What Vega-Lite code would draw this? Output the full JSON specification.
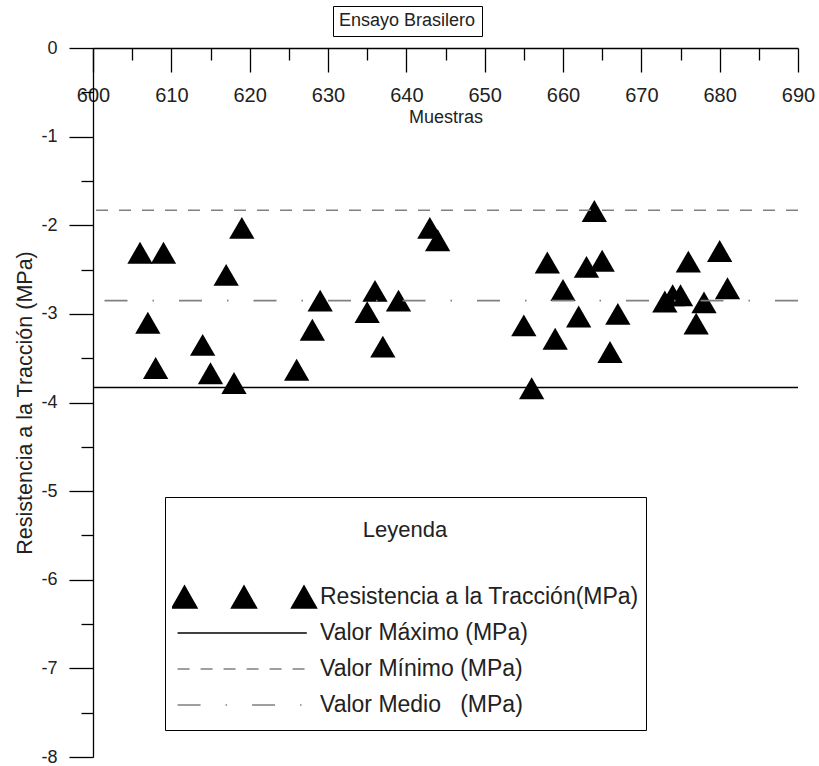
{
  "$schema": "https://vega.github.io/schema/vega-lite/v6.json",
  "width": 705,
  "height": 709,
  "autosize": {"type": "none"},
  "padding": {"left": 93, "top": 48, "right": 21, "bottom": 9},
  "background": "white",
  "config": {"font": "Liberation Sans", "view": {"stroke": null}},
  "datasets": {
    "muestras": [
      {"muestra": 606, "resistencia": -2.31, "ensayo": "Ensayo Brasilero"},
      {"muestra": 607, "resistencia": -3.10, "ensayo": "Ensayo Brasilero"},
      {"muestra": 608, "resistencia": -3.61, "ensayo": "Ensayo Brasilero"},
      {"muestra": 609, "resistencia": -2.31, "ensayo": "Ensayo Brasilero"},
      {"muestra": 614, "resistencia": -3.35, "ensayo": "Ensayo Brasilero"},
      {"muestra": 615, "resistencia": -3.67, "ensayo": "Ensayo Brasilero"},
      {"muestra": 617, "resistencia": -2.56, "ensayo": "Ensayo Brasilero"},
      {"muestra": 618, "resistencia": -3.78, "ensayo": "Ensayo Brasilero"},
      {"muestra": 619, "resistencia": -2.03, "ensayo": "Ensayo Brasilero"},
      {"muestra": 626, "resistencia": -3.63, "ensayo": "Ensayo Brasilero"},
      {"muestra": 628, "resistencia": -3.18, "ensayo": "Ensayo Brasilero"},
      {"muestra": 629, "resistencia": -2.85, "ensayo": "Ensayo Brasilero"},
      {"muestra": 635, "resistencia": -2.98, "ensayo": "Ensayo Brasilero"},
      {"muestra": 636, "resistencia": -2.74, "ensayo": "Ensayo Brasilero"},
      {"muestra": 637, "resistencia": -3.37, "ensayo": "Ensayo Brasilero"},
      {"muestra": 639, "resistencia": -2.85, "ensayo": "Ensayo Brasilero"},
      {"muestra": 643, "resistencia": -2.03, "ensayo": "Ensayo Brasilero"},
      {"muestra": 644, "resistencia": -2.17, "ensayo": "Ensayo Brasilero"},
      {"muestra": 655, "resistencia": -3.13, "ensayo": "Ensayo Brasilero"},
      {"muestra": 656, "resistencia": -3.84, "ensayo": "Ensayo Brasilero"},
      {"muestra": 658, "resistencia": -2.42, "ensayo": "Ensayo Brasilero"},
      {"muestra": 659, "resistencia": -3.28, "ensayo": "Ensayo Brasilero"},
      {"muestra": 660, "resistencia": -2.73, "ensayo": "Ensayo Brasilero"},
      {"muestra": 662, "resistencia": -3.03, "ensayo": "Ensayo Brasilero"},
      {"muestra": 663, "resistencia": -2.47, "ensayo": "Ensayo Brasilero"},
      {"muestra": 664, "resistencia": -1.84, "ensayo": "Ensayo Brasilero"},
      {"muestra": 665, "resistencia": -2.40, "ensayo": "Ensayo Brasilero"},
      {"muestra": 666, "resistencia": -3.43, "ensayo": "Ensayo Brasilero"},
      {"muestra": 667, "resistencia": -3.00, "ensayo": "Ensayo Brasilero"},
      {"muestra": 673, "resistencia": -2.86, "ensayo": "Ensayo Brasilero"},
      {"muestra": 674, "resistencia": -2.79, "ensayo": "Ensayo Brasilero"},
      {"muestra": 675, "resistencia": -2.79, "ensayo": "Ensayo Brasilero"},
      {"muestra": 676, "resistencia": -2.41, "ensayo": "Ensayo Brasilero"},
      {"muestra": 677, "resistencia": -3.11, "ensayo": "Ensayo Brasilero"},
      {"muestra": 678, "resistencia": -2.87, "ensayo": "Ensayo Brasilero"},
      {"muestra": 680, "resistencia": -2.29, "ensayo": "Ensayo Brasilero"},
      {"muestra": 681, "resistencia": -2.71, "ensayo": "Ensayo Brasilero"}
    ],
    "referencias": [
      {"serie": "Valor Máximo (MPa)", "valor": -3.83},
      {"serie": "Valor Mínimo (MPa)", "valor": -1.83},
      {"serie": "Valor Medio\u00a0\u00a0\u00a0(MPa)", "valor": -2.85}
    ]
  },
  "layer": [
    {
      "data": {"name": "muestras"},
      "mark": {"type": "point", "shape": "triangle-up", "filled": true, "size": 640, "opacity": 1, "strokeWidth": 0},
      "encoding": {
        "x": {
          "field": "muestra", "type": "quantitative",
          "scale": {"domain": [600, 690], "nice": false, "zero": false},
          "axis": {
            "orient": "bottom", "offset": -709,
            "values": [600, 605, 610, 615, 620, 625, 630, 635, 640, 645, 650, 655, 660, 665, 670, 675, 680, 685, 690],
            "tickSize": {"condition": {"test": "datum.value % 10 === 0", "value": 24}, "value": 12},
            "labelExpr": "datum.value % 10 === 0 ? datum.label : ''",
            "labelFontSize": 20, "labelPadding": 13, "labelColor": "#222", "labelFlush": false, "labelOverlap": false,
            "title": "Muestras", "titleFontSize": 18, "titleFontWeight": "normal", "titlePadding": 3, "titleColor": "#222",
            "domainColor": "black", "tickColor": "black", "domainWidth": 1.3, "tickWidth": 1.3, "grid": false
          }
        },
        "y": {
          "field": "resistencia", "type": "quantitative",
          "scale": {"domain": [-8, 0], "nice": false, "zero": false},
          "axis": {
            "orient": "left",
            "values": [-8, -7.5, -7, -6.5, -6, -5.5, -5, -4.5, -4, -3.5, -3, -2.5, -2, -1.5, -1, -0.5, 0],
            "tickSize": {"condition": {"test": "datum.value % 1 === 0", "value": 24}, "value": 12},
            "labelExpr": "datum.value % 1 === 0 ? toString(datum.value) : ''",
            "labelFontSize": 18, "labelPadding": 12, "labelColor": "#222", "labelOverlap": false,
            "title": "Resistencia a la Tracción (MPa)", "titleFontSize": 21.5, "titleFontWeight": "normal", "titlePadding": 4, "titleColor": "#222",
            "domainColor": "black", "tickColor": "black", "domainWidth": 1.3, "tickWidth": 1.3, "grid": false
          }
        },
        "fill": {
          "field": "ensayo", "type": "nominal",
          "scale": {"range": ["black"]},
          "legend": {
            "title": null, "orient": "none", "legendX": 240, "legendY": -42,
            "strokeColor": "black", "padding": 6, "fillColor": "white",
            "labelFontSize": 18, "labelColor": "#222", "labelOffset": -18, "labelLimit": 0,
            "symbolSize": 0, "symbolStrokeWidth": 0, "symbolOpacity": 0, "clipHeight": 18
          }
        }
      }
    },
    {
      "data": {"name": "referencias"},
      "mark": {"type": "rule", "strokeWidth": 1.6},
      "encoding": {
        "y": {"field": "valor", "type": "quantitative"},
        "stroke": {
          "field": "serie", "type": "nominal",
          "scale": {
            "domain": ["Resistencia a la Tracción(MPa)", "Valor Máximo (MPa)", "Valor Mínimo (MPa)", "Valor Medio\u00a0\u00a0\u00a0(MPa)"],
            "range": ["black", "black", "#808080", "#808080"]
          },
          "legend": {
            "title": "Leyenda", "orient": "none", "legendX": 72, "legendY": 449,
            "strokeColor": "black", "padding": 7, "fillColor": "white",
            "titleAnchor": "middle", "titleFontSize": 22, "titleFontWeight": "normal", "titleColor": "#222",
            "titleBaseline": "line-top", "titleLineHeight": 53, "titlePadding": 53,
            "labelFontSize": 23, "labelColor": "#222", "labelOffset": 2, "labelLimit": 0,
            "symbolSize": 21316, "symbolOffset": -2, "symbolStrokeWidth": 1.5,
            "clipHeight": 36, "rowPadding": 0,
            "encode": {
              "symbols": {
                "update": {
                  "shape": {"signal": "datum.value === 'Resistencia a la Tracción(MPa)' ? 'M-0.986,0.15L-0.815,-0.15L-0.644,0.15ZM-0.171,0.15L0,-0.15L0.171,0.15ZM0.651,0.15L0.822,-0.15L0.993,0.15Z' : 'M-0.91,0L0.86,0'"},
                  "fill": {"signal": "datum.value === 'Resistencia a la Tracción(MPa)' ? 'black' : 'transparent'"}
                }
              }
            }
          }
        },
        "strokeDash": {
          "field": "serie", "type": "nominal",
          "scale": {
            "domain": ["Resistencia a la Tracción(MPa)", "Valor Máximo (MPa)", "Valor Mínimo (MPa)", "Valor Medio\u00a0\u00a0\u00a0(MPa)"],
            "range": [[1, 0], [1, 0], [12, 11], [23, 25, 1.5, 25]]
          },
          "legend": {
            "title": "Leyenda", "orient": "none", "legendX": 72, "legendY": 449,
            "strokeColor": "black", "padding": 7, "fillColor": "white",
            "titleAnchor": "middle", "titleFontSize": 22, "titleFontWeight": "normal", "titleColor": "#222",
            "titleBaseline": "line-top", "titleLineHeight": 53, "titlePadding": 53,
            "labelFontSize": 23, "labelColor": "#222", "labelOffset": 2, "labelLimit": 0,
            "symbolSize": 21316, "symbolOffset": -2, "symbolStrokeWidth": 1.5,
            "clipHeight": 36, "rowPadding": 0,
            "encode": {
              "symbols": {
                "update": {
                  "shape": {"signal": "datum.value === 'Resistencia a la Tracción(MPa)' ? 'M-0.986,0.15L-0.815,-0.15L-0.644,0.15ZM-0.171,0.15L0,-0.15L0.171,0.15ZM0.651,0.15L0.822,-0.15L0.993,0.15Z' : 'M-0.91,0L0.86,0'"},
                  "fill": {"signal": "datum.value === 'Resistencia a la Tracción(MPa)' ? 'black' : 'transparent'"}
                }
              }
            }
          }
        }
      }
    }
  ]
}
